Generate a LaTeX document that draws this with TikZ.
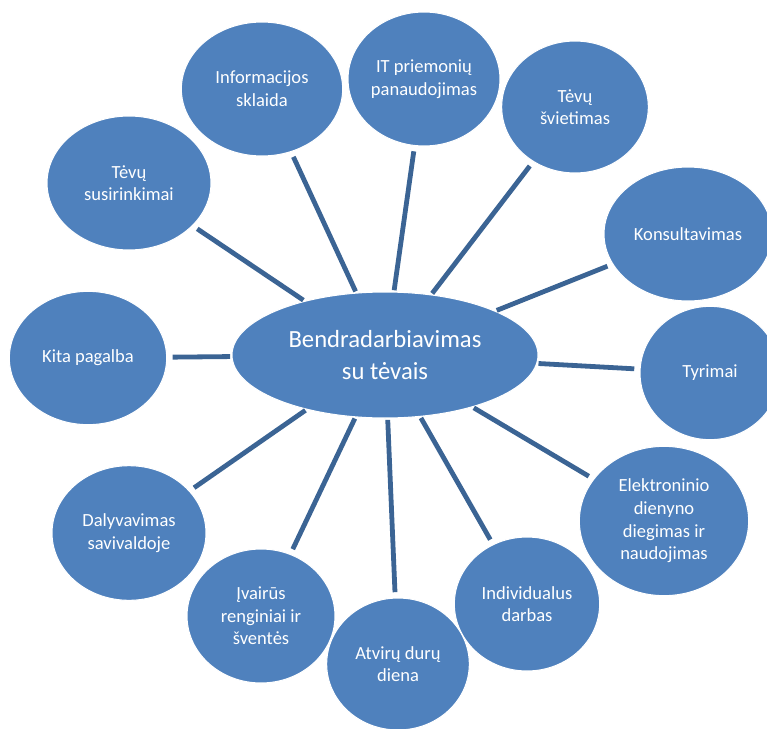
\documentclass[tikz,border=0pt]{standalone}
\usepackage{fontspec}
\setmainfont{Carlito}
\usepackage{xcolor}
\usetikzlibrary{shapes.geometric}
\definecolor{bubbleblue}{HTML}{4F81BD}
\definecolor{spokeblue}{HTML}{3B6494}

\begin{document}
\begin{tikzpicture}[x=0.75pt,y=-0.75pt,
  bubble/.style={ellipse,fill=bubbleblue,draw=white,line width=0.8pt,text=white,align=center,inner sep=0pt,font=\fontsize{13.9}{17}\selectfont},
  hub/.style={bubble,font=\fontsize{18.5}{24}\selectfont},
  spoke/.style={draw=spokeblue,line width=3.6pt,shorten <=1pt,shorten >=4pt}]
\useasboundingbox (0,0) rectangle (767,728);
% centre
\node[hub,minimum width=229.5pt,minimum height=94.5pt] (hub) at (385,355) {Bendradarbiavimas\\su tėvais};
% satellites
\node[bubble,minimum width=123pt,minimum height=100.5pt] (susirinkimai) at (129,183) {Tėvų\\susirinkimai};
\node[bubble,minimum width=121pt,minimum height=100.5pt] (sklaida) at (262,89) {Informacijos\\sklaida};
\node[bubble,minimum width=114pt,minimum height=100.5pt] (it) at (424,79) {IT priemonių\\panaudojimas};
\node[bubble,minimum width=110pt,minimum height=99pt] (svietimas) at (575,107) {Tėvų\\švietimas};
\node[bubble,minimum width=126pt,minimum height=100.5pt] (konsult) at (688,234) {Konsultavimas};
\node[bubble,minimum width=105pt,minimum height=100pt] (tyrimai) at (710,373) {Tyrimai};
\node[bubble,minimum width=127pt,minimum height=112pt] (dienynas) at (664,521) {Elektroninio\\dienyno\\diegimas ir\\naudojimas};
\node[bubble,minimum width=109pt,minimum height=100.5pt] (individ) at (527,604) {Individualus\\darbas};
\node[bubble,minimum width=111pt,minimum height=100.5pt] (renginiai) at (261,616) {Įvairūs\\renginiai ir\\šventės};
\node[bubble,minimum width=115.5pt,minimum height=101pt] (savivalda) at (129,533) {Dalyvavimas\\savivaldoje};
\node[bubble,minimum width=118pt,minimum height=100pt] (kita) at (88,358) {Kita pagalba};
\node[bubble,minimum width=107pt,minimum height=99pt] (atviros) at (398,664) {Atvirų durų\\diena};
% spokes
\foreach \s in {susirinkimai,sklaida,it,svietimas,konsult,tyrimai,dienynas,individ,atviros,renginiai,savivalda,kita}
  \draw[spoke] (hub) -- (\s);
\end{tikzpicture}
\end{document}
